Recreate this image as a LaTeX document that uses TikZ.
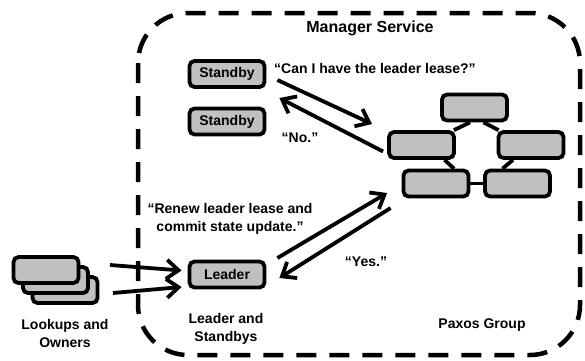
\documentclass[tikz,border=0pt]{standalone}
\usepackage{fontspec}
\setmainfont{Liberation Sans}
\usetikzlibrary{arrows.meta,calc,backgrounds}
\definecolor{boxgray}{RGB}{192,192,192}
\begin{document}
\begin{tikzpicture}[x=1pt,y=-1pt,
  box/.style={draw=black, fill=boxgray, line width=3.8pt, rounded corners=5pt,
    minimum width=75pt, minimum height=26pt, inner sep=0pt,
    font=\bfseries\fontsize{14}{16}\selectfont},
  pbox/.style={box, minimum width=65pt},
  arr/.style={line width=3.8pt, -{Straight Barb[length=12pt,width=19pt]}},
  lbl/.style={font=\bfseries\fontsize{14}{18}\selectfont, align=center, inner sep=0pt},
  link/.style={line width=3.8pt},
  boundary/.style={line width=4.5pt, dash pattern=on 20pt off 13pt, rounded corners=50pt}]

\useasboundingbox (0,0) rectangle (585,360);

% standby / leader
\node[box] (s1) at (227,74) {Standby};
\node[box] (s2) at (227,121.5) {Standby};
\node[box] (ld) at (227,274.5) {Leader};

% paxos group
\node[pbox] (pt) at (474.5,107.5) {};
\node[pbox] (pl) at (421.5,145) {};
\node[pbox] (pr) at (531,145) {};
\node[pbox] (pbl) at (436,183.5) {};
\node[pbox] (pbr) at (517.5,183.5) {};

% lookups and owners
\node[pbox] (k3) at (65,290) {};
\node[pbox] (k2) at (55.5,280) {};
\node[pbox] (k1) at (46,270) {};

\begin{pgfonlayer}{background}
  \draw[boundary] (138,13) rectangle (580,355);
  \draw[link] ($(pt.south)+(-4.5,0)$) -- ($(pl.north east)+(-2,0)$);
  \draw[link] ($(pt.south)+(9,0)$) -- ($(pr.north west)+(2,0)$);
  \draw[link] ($(pl.south)+(23,0)$) -- ($(pbl.north)+(18,0)$);
  \draw[link] ($(pr.south)+(-18,0)$) -- ($(pbr.north)+(-15,0)$);
  \draw[link] (pbl.east) -- (pbr.west);
\end{pgfonlayer}

% arrows
\draw[arr] ($(s1.east)+(11,6)$) -- ($(pl.west)+(-15,-21)$);
\draw[arr] ($(pl.west)+(-4,6.5)$) -- ($(s1.east)+(13,24)$);
\draw[arr] ($(ld.east)+(11,-16.5)$) -- ($(pbl.west)+(-14.5,9.5)$);
\draw[arr] ($(pbl.west)+(-11,24.5)$) -- ($(ld.east)+(13,3.5)$);
\draw[arr] ($(k1.east)+(29.5,-5)$) -- ($(ld.west)+(-6,-4)$);
\draw[arr] ($(k3.east)+(13.5,3)$) -- ($(ld.west)+(-6,12.5)$);

% labels
\node[lbl, font=\bfseries\fontsize{16}{18}\selectfont] (ms) at (370,28) {Manager Service};
\node[lbl, anchor=west] (q1) at (274,68) {“Can I have the leader lease?”};
\node[lbl] (no) at (300,138) {“No.”};
\node[lbl] (renew) at (230,219) {“Renew leader lease and\\commit state update.”};
\node[lbl] (yes) at (366,262) {“Yes.”};
\node[lbl] (las) at (226,329) {Leader and\\Standbys};
\node[lbl] (lao) at (65,333.5) {Lookups and\\Owners};
\node[lbl] (pg) at (482,325) {Paxos Group};
\end{tikzpicture}
\end{document}
